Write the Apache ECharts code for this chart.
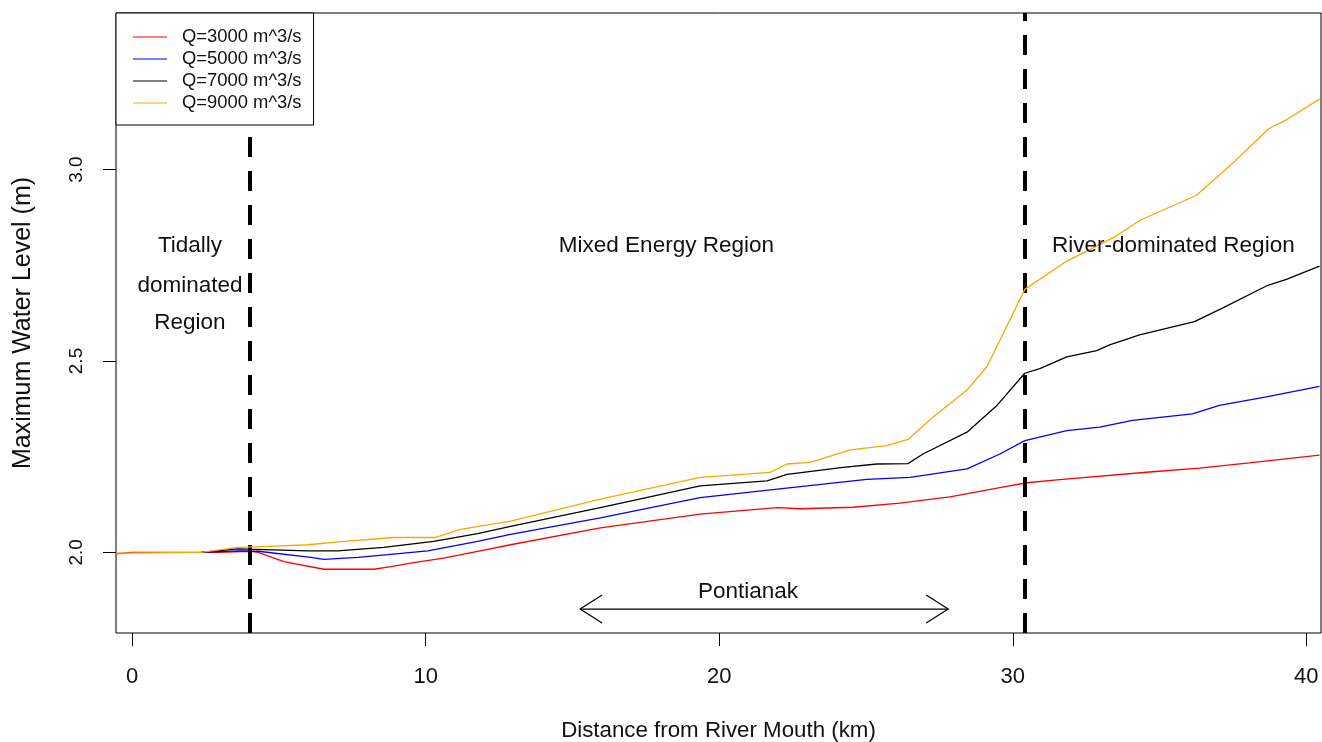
<!DOCTYPE html>
<html>
<head>
<meta charset="utf-8">
<script src="https://cdn.jsdelivr.net/npm/echarts@6/dist/echarts.min.js"></script>
<style>
html,body{margin:0;padding:0;background:#fff}
#main{width:1322px;height:742px}
</style>
</head>
<body>
<div id="main"></div>
<script>
// distance (km), maximum water level (m)
var q3000 = [[-0.55,1.996],[0,2.0],[2.93,2.0],[4.05,2.003],[4.29,2.0],[5.17,1.976],[6.53,1.956],[8.23,1.956],[8.81,1.963],[9.49,1.972],[10.61,1.985],[11.77,2.003],[12.89,2.02],[15.95,2.064],[19.35,2.1],[21.97,2.117],[22.76,2.114],[24.56,2.118],[26.16,2.129],[27.86,2.145],[29.56,2.169],[30.48,2.182],[31.6,2.19],[34.66,2.21],[36.36,2.22],[38.06,2.234],[40.45,2.254]];
var q5000 = [[2.35,2.0],[3.6,2.004],[4.29,2.003],[6.09,1.987],[6.53,1.982],[7.69,1.987],[8.71,1.994],[10.07,2.004],[11.77,2.029],[12.89,2.047],[15.95,2.09],[19.35,2.143],[22.76,2.172],[25.03,2.191],[26.5,2.196],[28.44,2.218],[29.56,2.257],[30.41,2.292],[31.84,2.318],[32.96,2.327],[34.08,2.345],[36.12,2.362],[37.04,2.384],[38.64,2.406],[40.45,2.434]];
var q7000 = [[2.35,2.0],[3.6,2.009],[5.99,2.004],[7.0,2.004],[8.57,2.013],[10.27,2.029],[11.77,2.049],[12.89,2.068],[15.95,2.117],[19.35,2.174],[21.63,2.187],[22.31,2.204],[24.22,2.222],[25.37,2.231],[26.43,2.232],[26.94,2.257],[28.44,2.314],[29.46,2.384],[30.41,2.468],[30.92,2.48],[31.84,2.511],[32.86,2.527],[33.3,2.542],[34.32,2.568],[36.19,2.603],[37.14,2.638],[38.64,2.696],[39.32,2.713],[40.45,2.748]];
var q9000 = [[-0.55,1.998],[2.35,2.0],[3.6,2.013],[4.63,2.016],[5.99,2.02],[7.21,2.029],[8.91,2.039],[10.34,2.039],[11.19,2.06],[12.89,2.082],[15.95,2.139],[19.35,2.196],[21.73,2.209],[22.31,2.231],[23.1,2.235],[24.46,2.268],[25.71,2.279],[26.43,2.295],[27.28,2.353],[28.44,2.424],[29.12,2.485],[30.41,2.687],[31.84,2.761],[33.54,2.827],[34.32,2.867],[36.26,2.933],[37.48,3.016],[38.74,3.108],[39.32,3.13],[40.45,3.184]];

var seriesNames = ['Q=3000 m^3/s', 'Q=5000 m^3/s', 'Q=7000 m^3/s', 'Q=9000 m^3/s'];
var seriesColors = ['#ff0000', '#0000ff', '#000000', '#ffa500'];

var xTicks = [0, 10, 20, 30, 40];
var yTicks = [2.0, 2.5, 3.0];

// region boundaries (km)
var boundaries = [4, 30.4];

// annotation texts and where they sit (km, m)
var noteText = ['Tidally', 'dominated', 'Region', 'Mixed Energy Region', 'River-dominated Region', 'Pontianak'];
var noteX = [1.97, 1.97, 1.97, 18.2, 35.47, 20.98];
var noteY = [2.802, 2.697, 2.6, 2.802, 2.802, 1.896];

// Pontianak arrow: from km, to km, at level
var arrowSpan = [15.26, 27.8, 1.852];

var font = 'Liberation Sans, Arial, sans-serif';
var ink = '#111';
var chart = echarts.init(document.getElementById('main'));

var lines = [q3000, q5000, q7000, q9000].map(function (d, i) {
    var s = {
        name: seriesNames[i],
        type: 'line',
        data: d,
        showSymbol: false,
        symbol: 'none',
        color: seriesColors[i],
        lineStyle: {color: seriesColors[i], width: 1.3},
        z: 2 + i
    };
    if (i == 0) {
        s.markLine = {
            silent: true,
            symbol: ['none', 'none'],
            label: {show: false},
            lineStyle: {color: '#000', width: 4, type: [20, 14], opacity: 1},
            data: boundaries.map(function (b) { return {xAxis: b}; })
        };
    }
    return s;
});

var notes = {
    type: 'scatter',
    symbolSize: 0,
    silent: true,
    z: 6,
    data: noteText.map(function (t, i) {
        return {name: t, value: [noteX[i], noteY[i]]};
    }),
    label: {
        show: true,
        position: 'inside',
        formatter: '{b}',
        color: ink,
        opacity: 1,
        fontFamily: font,
        fontSize: 22.5
    }
};

var arrow = {
    type: 'custom',
    silent: true,
    data: [arrowSpan],
    renderItem: function (params, api) {
        var a = api.coord([api.value(0), api.value(2)]);
        var b = api.coord([api.value(1), api.value(2)]);
        var st = {stroke: '#000', lineWidth: 1.2, fill: null};
        return {
            type: 'group',
            children: [
                {type: 'line', shape: {x1: a[0], y1: a[1], x2: b[0], y2: b[1]}, style: st},
                {type: 'polyline', shape: {points: [[a[0] + 22, a[1] - 14], a, [a[0] + 22, a[1] + 14]]}, style: st},
                {type: 'polyline', shape: {points: [[b[0] - 22, b[1] - 14], b, [b[0] - 22, b[1] + 14]]}, style: st}
            ]
        };
    }
};

option = {
    animation: false,
    backgroundColor: '#fff',
    textStyle: {fontFamily: font},
    grid: {
        left: 116, right: 1, top: 13, bottom: 109,
        outerBoundsMode: 'none',
        show: true, borderColor: '#000', borderWidth: 1
    },
    legend: {
        data: seriesNames,
        orient: 'vertical',
        left: 116, top: 13,
        z: 50,
        icon: 'rect',
        itemWidth: 34, itemHeight: 1, itemGap: 0,
        padding: [13, 12, 11, 17],
        borderColor: '#000', borderWidth: 1, borderRadius: 0,
        backgroundColor: '#fff',
        textStyle: {fontSize: 18.4, lineHeight: 22, color: ink, padding: [0, 0, 0, 10], fontFamily: font}
    },
    xAxis: {
        type: 'value',
        min: -0.55, max: 40.5,
        name: 'Distance from River Mouth (km)',
        nameLocation: 'middle',
        nameGap: 87,
        nameTextStyle: {fontSize: 22.3, color: ink, fontFamily: font},
        axisLine: {show: false, onZero: false},
        axisTick: {show: true, length: 13, customValues: xTicks, lineStyle: {color: '#000'}},
        axisLabel: {customValues: xTicks, fontSize: 22, color: ink, margin: 33, fontFamily: font},
        splitLine: {show: false}
    },
    yAxis: {
        type: 'value',
        min: 1.7895, max: 3.409,
        name: 'Maximum Water Level (m)',
        nameLocation: 'middle',
        nameGap: 80,
        nameMoveOverlap: false,
        nameTextStyle: {fontSize: 25, color: ink, fontFamily: font},
        axisLine: {show: false, onZero: false},
        axisTick: {show: true, length: 13, customValues: yTicks, lineStyle: {color: '#000'}},
        axisLabel: {
            customValues: yTicks, rotate: 90, fontSize: 19, color: ink, margin: 30, fontFamily: font,
            formatter: function (v) { return v.toFixed(1); }
        },
        splitLine: {show: false}
    },
    series: lines.concat([notes, arrow])
};

chart.setOption(option);
</script>
</body>
</html>
